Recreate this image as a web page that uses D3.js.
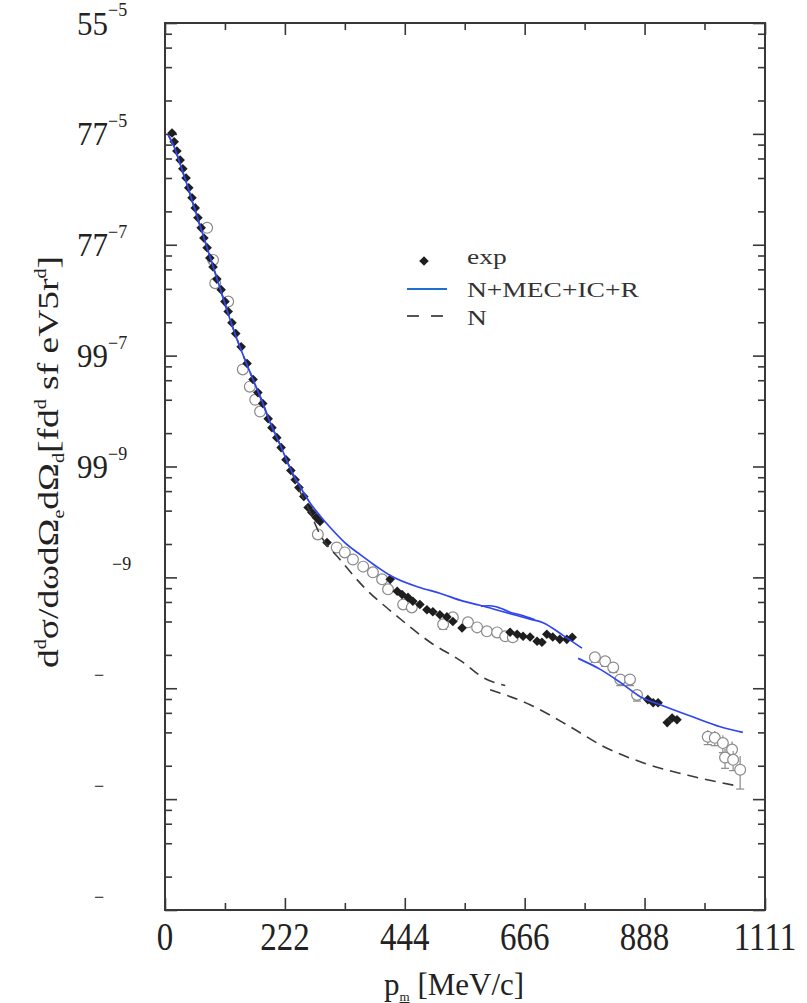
<!DOCTYPE html>
<html>
<head>
<meta charset="utf-8">
<script src="https://cdn.jsdelivr.net/npm/d3@7/dist/d3.min.js"></script>
<style>
  body { margin: 0; background: #fff; }
  text { font-family: "Liberation Serif", "Times New Roman", serif; fill: #222; }
</style>
</head>
<body>
<script>
var width = 807, height = 1003;
var margin = { top: 23, right: 42, bottom: 93, left: 165 };

// axis ticks and their (garbled) labels
var xTicks = [0, 222, 444, 666, 888, 1111];
var xMinorTicks = [111, 333, 555, 777, 999];
var yTicks = [1, 1e-1, 1e-2, 1e-3, 1e-4, 1e-5, 1e-6, 1e-7, 1e-8];
var yTickBase = ["55", "77", "77", "99", "99", "", "", "", ""];
var yTickSup = ["\u22125", "\u22125", "\u22127", "\u22127", "\u22129", "\u22129", "\u2212", "\u2212", "\u2212"];

// exp, filled diamonds: [p_m, value, relative error]
var expFilled = [
  [13, 1.02e-1, 0], [17, 8.5e-2, 0], [22, 7.0e-2, 0], [28, 5.8e-2, 0], [33, 4.85e-2, 0],
  [39, 4.0e-2, 0], [44, 3.26e-2, 0], [50, 2.65e-2, 0], [56, 2.15e-2, 0], [61, 1.75e-2, 0],
  [67, 1.42e-2, 0], [72, 1.15e-2, 0], [78, 9.4e-3, 0], [83, 7.6e-3, 0], [89, 6.3e-3, 0],
  [96, 4.9e-3, 0], [104, 3.93e-3, 0], [111, 3.07e-3, 0], [117, 2.5e-3, 0], [124, 1.98e-3, 0],
  [131, 1.58e-3, 0], [141, 1.2e-3, 0], [152, 8.5e-4, 0], [163, 6.1e-4, 0], [172, 4.64e-4, 0],
  [181, 3.7e-4, 0], [191, 2.7e-4, 0], [198, 2.24e-4, 0], [207, 1.82e-4, 0], [215, 1.48e-4, 0],
  [224, 1.15e-4, 0], [233, 9.2e-5, 0], [241, 7.6e-5, 0], [248, 6.45e-5, 0], [257, 5.36e-5, 0],
  [265, 4.27e-5, 0], [272, 3.85e-5, 0], [280, 3.47e-5, 0], [287, 3.19e-5, 0], [300, 2.06e-5, 0],
  [417, 9.6e-6, 0.05], [430, 7.5e-6, 0.05], [439, 7.0e-6, 0.05], [450, 6.6e-6, 0.05], [459, 6.1e-6, 0.05],
  [472, 5.7e-6, 0.05], [485, 5.1e-6, 0.05], [496, 4.9e-6, 0.05], [509, 4.6e-6, 0.05], [522, 4.4e-6, 0.05],
  [533, 4.0e-6, 0.05], [550, 3.5e-6, 0.06], [639, 3.2e-6, 0.06], [652, 3.07e-6, 0.06], [663, 2.94e-6, 0.06],
  [676, 2.9e-6, 0.06], [689, 2.65e-6, 0.06], [698, 2.6e-6, 0.06], [707, 3.07e-6, 0.06], [718, 2.9e-6, 0.06],
  [731, 2.76e-6, 0.06], [744, 2.76e-6, 0.06], [754, 2.88e-6, 0.06],
  [894, 7.9e-7, 0.07], [904, 7.4e-7, 0.07], [913, 7.4e-7, 0.07], [930, 4.9e-7, 0.08], [939, 5.4e-7, 0.08], [948, 5.2e-7, 0.08]
];

// second data set, open circles: [p_m, value, relative error]
var expOpen = [
  [78, 1.42e-2, 0.05], [89, 7.3e-3, 0.05], [93, 4.5e-3, 0.05], [117, 3.07e-3, 0.05], [144, 7.5e-4, 0.05],
  [157, 5.25e-4, 0.05], [167, 4.0e-4, 0.05], [176, 3.13e-4, 0.05], [283, 2.44e-5, 0.08], [318, 1.86e-5, 0.06],
  [333, 1.68e-5, 0.06], [348, 1.45e-5, 0.06], [367, 1.25e-5, 0.06], [385, 1.11e-5, 0.06], [402, 9.6e-6, 0.06],
  [413, 7.8e-6, 0.06], [441, 5.7e-6, 0.06], [457, 5.36e-6, 0.06], [515, 3.77e-6, 0.1], [533, 4.36e-6, 0.08],
  [561, 3.93e-6, 0.07], [578, 3.54e-6, 0.07], [596, 3.26e-6, 0.07], [615, 3.19e-6, 0.07], [630, 2.94e-6, 0.07],
  [644, 2.88e-6, 0.07], [796, 1.9e-6, 0.1], [815, 1.75e-6, 0.1], [830, 1.54e-6, 0.1], [843, 1.2e-6, 0.12],
  [861, 1.2e-6, 0.12], [874, 8.7e-7, 0.12], [1005, 3.65e-7, 0.15], [1018, 3.57e-7, 0.15], [1033, 3.2e-7, 0.18],
  [1050, 2.8e-7, 0.18], [1037, 2.37e-7, 0.2], [1052, 2.26e-7, 0.2], [1065, 1.84e-7, 0.33]
];

// N+MEC+IC+R, three pieces
var fullCalcA = [
  [6, 9.8e-2], [19, 7.2e-2], [30, 5.0e-2], [41, 3.47e-2], [52, 2.34e-2], [65, 1.48e-2],
  [78, 9.4e-3], [91, 5.95e-3], [104, 3.77e-3], [117, 2.39e-3], [131, 1.51e-3], [148, 9.2e-4],
  [167, 5.47e-4], [180, 3.85e-4], [194, 2.54e-4], [213, 1.58e-4], [231, 9.8e-5], [250, 6.6e-5],
  [268, 4.74e-5], [287, 3.6e-5], [306, 2.82e-5], [333, 2.06e-5], [361, 1.61e-5], [389, 1.28e-5],
  [417, 1.04e-5], [472, 8.1e-6], [509, 7.2e-6], [552, 6.1e-6], [583, 5.6e-6], [626, 4.9e-6],
  [676, 4.2e-6], [700, 3.9e-6], [737, 3.0e-6], [772, 2.3e-6]
];
var fullCalcB = [
  [585, 5.5e-6], [602, 5.55e-6], [620, 5.3e-6], [639, 4.85e-6], [657, 4.6e-6], [685, 4.15e-6]
];
var fullCalcC = [
  [765, 1.86e-6], [806, 1.48e-6], [843, 1.13e-6], [880, 8.4e-7], [917, 7.1e-7], [978, 5.5e-7],
  [1028, 4.5e-7], [1070, 4.0e-7]
];

// N only, two pieces
var nCalcA = [
  [6, 9.8e-2], [19, 7.2e-2], [30, 5.0e-2], [41, 3.47e-2], [52, 2.34e-2], [65, 1.48e-2],
  [78, 9.4e-3], [91, 5.95e-3], [104, 3.77e-3], [117, 2.39e-3], [131, 1.51e-3], [148, 9.2e-4],
  [167, 5.47e-4], [180, 3.85e-4], [194, 2.54e-4], [213, 1.58e-4], [231, 9.8e-5], [250, 5.95e-5],
  [268, 3.93e-5], [287, 2.44e-5], [324, 1.45e-5], [367, 8.3e-6], [430, 4.45e-6], [491, 2.6e-6],
  [552, 1.71e-6], [589, 1.25e-6], [630, 1.06e-6]
];
var nCalcB = [
  [602, 9.7e-7], [676, 7.1e-7], [750, 4.5e-7], [811, 3.0e-7], [885, 2.13e-7], [978, 1.6e-7], [1065, 1.3e-7]
];

var legendLabels = ["exp", "N+MEC+IC+R", "N"];

var frameColor = "#383838";
var blue = "#2f45ee";

var x = d3.scaleLinear().domain([0, 1111]).range([margin.left, width - margin.right]);
var y = d3.scaleLog().domain([1e-8, 1]).range([height - margin.bottom, margin.top]);

var svg = d3.select("body").append("svg")
    .attr("width", width)
    .attr("height", height);

// minor y ticks at 2,4,6,8 of each decade
var yMinor = [];
d3.range(-8, 0).forEach(function (k) {
    [2, 4, 6, 8].forEach(function (m) { yMinor.push(m * Math.pow(10, k)); });
});

function tickStyle(g) {
    g.select(".domain").remove();
    g.selectAll("line").attr("stroke", frameColor).attr("stroke-width", 1.6);
}

var x0 = margin.left, x1 = width - margin.right, y0 = height - margin.bottom, y1 = margin.top;

svg.append("g").attr("transform", "translate(0," + y0 + ")")
    .call(d3.axisBottom(x).tickValues(xTicks).tickSize(-12).tickFormat("")).call(tickStyle);
svg.append("g").attr("transform", "translate(0," + y0 + ")")
    .call(d3.axisBottom(x).tickValues(xMinorTicks).tickSize(-7).tickFormat("")).call(tickStyle);
svg.append("g").attr("transform", "translate(0," + y1 + ")")
    .call(d3.axisTop(x).tickValues(xTicks).tickSize(-12).tickFormat("")).call(tickStyle);
svg.append("g").attr("transform", "translate(0," + y1 + ")")
    .call(d3.axisTop(x).tickValues(xMinorTicks).tickSize(-7).tickFormat("")).call(tickStyle);
svg.append("g").attr("transform", "translate(" + x0 + ",0)")
    .call(d3.axisLeft(y).tickValues(yTicks).tickSize(-12).tickFormat("")).call(tickStyle);
svg.append("g").attr("transform", "translate(" + x0 + ",0)")
    .call(d3.axisLeft(y).tickValues(yMinor).tickSize(-7).tickFormat("")).call(tickStyle);
svg.append("g").attr("transform", "translate(" + x1 + ",0)")
    .call(d3.axisRight(y).tickValues(yTicks).tickSize(-12).tickFormat("")).call(tickStyle);
svg.append("g").attr("transform", "translate(" + x1 + ",0)")
    .call(d3.axisRight(y).tickValues(yMinor).tickSize(-7).tickFormat("")).call(tickStyle);

svg.append("rect")
    .attr("x", x0).attr("y", y1)
    .attr("width", x1 - x0).attr("height", y0 - y1)
    .attr("fill", "none").attr("stroke", frameColor).attr("stroke-width", 2);

// x tick labels
svg.selectAll(".xlab").data(xTicks).enter().append("text")
    .attr("class", "xlab")
    .attr("transform", function (d) { return "translate(" + x(d) + ",950) scale(1,1.2)"; })
    .attr("text-anchor", "middle")
    .style("font-size", "33px")
    .text(function (d) { return String(d); });

// y tick labels
yTicks.forEach(function (t, i) {
    var ty = y(t);
    if (yTickBase[i]) {
        svg.append("text")
            .attr("transform", "translate(108," + (ty + 11.5) + ") scale(1,1.12)")
            .attr("text-anchor", "end")
            .style("font-size", "31px")
            .text(yTickBase[i]);
    }
    var sx = yTickBase[i] ? 108 : (yTickSup[i].length > 1 ? 112 : 94);
    svg.append("text")
        .attr("x", sx).attr("y", ty - 7)
        .style("font-size", "18px")
        .text(yTickSup[i]);
});

// axis titles
var xt = svg.append("text")
    .attr("x", 384).attr("y", 995)
    .style("font-size", "31px");
xt.append("tspan").text("p");
xt.append("tspan").attr("dy", 6).style("font-size", "13px").style("text-decoration", "underline").text("m");
xt.append("tspan").attr("dy", -6).text(" [MeV/c]");

var yt = svg.append("text")
    .attr("transform", "translate(58,462) rotate(-90)")
    .attr("text-anchor", "middle")
    .attr("textLength", 412)
    .attr("lengthAdjust", "spacingAndGlyphs")
    .style("font-size", "30px");
[["d", 0], ["d", 1], ["\u03c3/d\u03c9d\u03a9", 0], ["e", -1], ["d\u03a9", 0], ["d", -1],
 ["[fd", 0], ["d", 1], [" sf  eV5r", 0], ["d", 1], ["]", 0]].forEach(function (s, i, arr) {
    var prev = i > 0 ? arr[i - 1][1] : 0;
    var shift = { "1": -12, "0": 0, "-1": 6 };
    yt.append("tspan")
        .attr("dy", shift[s[1]] - shift[prev])
        .style("font-size", s[1] === 0 ? "30px" : "16px")
        .text(s[0]);
});

// open circles with error bars
var plot = svg.append("g");
var openG = plot.selectAll(".open").data(expOpen).enter().append("g").attr("class", "open");
openG.append("line")
    .attr("x1", function (d) { return x(d[0]); }).attr("x2", function (d) { return x(d[0]); })
    .attr("y1", function (d) { return y(d[1] * (1 + d[2])); })
    .attr("y2", function (d) { return y(d[1] * (1 - d[2])); })
    .attr("stroke", "#8a8a8a").attr("stroke-width", 1.2);
openG.append("line")
    .attr("x1", function (d) { return x(d[0]) - 4; }).attr("x2", function (d) { return x(d[0]) + 4; })
    .attr("y1", function (d) { return y(d[1] * (1 - d[2])); })
    .attr("y2", function (d) { return y(d[1] * (1 - d[2])); })
    .attr("stroke", "#8a8a8a").attr("stroke-width", 1.2);
openG.append("circle")
    .attr("cx", function (d) { return x(d[0]); })
    .attr("cy", function (d) { return y(d[1]); })
    .attr("r", 5.4)
    .attr("fill", "#fff").attr("stroke", "#8a8a8a").attr("stroke-width", 1.2);

// filled diamonds
var diamond = d3.symbol().type(d3.symbolSquare).size(46);
var fillG = plot.selectAll(".filled").data(expFilled).enter().append("g").attr("class", "filled");
fillG.filter(function (d) { return d[2] > 0; }).append("line")
    .attr("x1", function (d) { return x(d[0]); }).attr("x2", function (d) { return x(d[0]); })
    .attr("y1", function (d) { return y(d[1] * (1 + d[2])); })
    .attr("y2", function (d) { return y(d[1] * (1 - d[2])); })
    .attr("stroke", "#555").attr("stroke-width", 1.2);
fillG.append("path")
    .attr("d", diamond)
    .attr("transform", function (d) { return "translate(" + x(d[0]) + "," + y(d[1]) + ") rotate(45)"; })
    .attr("fill", "#1e1e1e");

// calculations
var line = d3.line()
    .x(function (d) { return x(d[0]); })
    .y(function (d) { return y(d[1]); })
    .curve(d3.curveMonotoneX);

[nCalcA, nCalcB].forEach(function (s) {
    plot.append("path").datum(s).attr("d", line)
        .attr("fill", "none").attr("stroke", "#3a3a3a").attr("stroke-width", 1.6)
        .attr("stroke-dasharray", "11,7");
});
[fullCalcA, fullCalcB, fullCalcC].forEach(function (s) {
    plot.append("path").datum(s).attr("d", line)
        .attr("fill", "none").attr("stroke", blue).attr("stroke-width", 1.7);
});

// legend
var legend = svg.append("g");
legend.append("path")
    .attr("d", diamond)
    .attr("transform", "translate(424,261) rotate(45)")
    .attr("fill", "#1e1e1e");
legend.append("line").attr("x1", 407).attr("x2", 447).attr("y1", 289).attr("y2", 289)
    .attr("stroke", "#1e70d0").attr("stroke-width", 2);
legend.append("line").attr("x1", 407).attr("x2", 447).attr("y1", 316).attr("y2", 316)
    .attr("stroke", "#555").attr("stroke-width", 2).attr("stroke-dasharray", "12,12");
legend.selectAll(".lg").data(legendLabels).enter().append("text")
    .attr("class", "lg")
    .attr("transform", function (d, i) { return "translate(467," + [264, 297, 325][i] + ") scale(1.25,1)"; })
    .style("font-size", "22px")
    .style("fill", "#333")
    .text(function (d) { return d; });
</script>
</body>
</html>
